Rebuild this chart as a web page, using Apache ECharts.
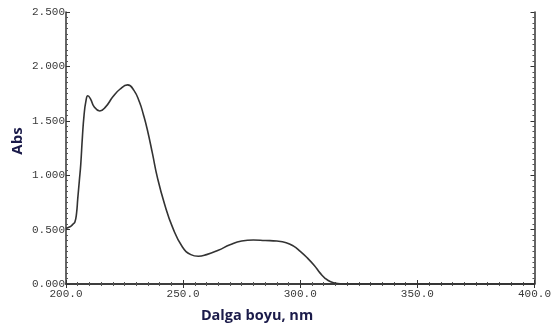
<!DOCTYPE html>
<html>
<head>
<meta charset="utf-8">
<script src="https://cdn.jsdelivr.net/npm/echarts@6/dist/echarts.min.js"></script>
<style>html,body{margin:0;padding:0;background:#fff;}#c{width:554px;height:331px;}</style>
</head>
<body>
<div id="c"></div>
<script>
var wavelengths = [200, 201, 202, 203, 203.8, 204.5, 205, 205.7, 206.3, 207, 207.7, 208.5, 209.3, 210.5, 212, 214.4, 217, 220, 223, 226.3, 229, 231.4, 233, 234.7, 236.9, 239, 242, 245.5, 249.7, 253.3, 256.5, 260, 265, 270, 275, 280, 285, 290, 294, 297, 300, 303, 306, 308.5, 310.5, 313, 316, 320, 330, 340, 350, 360, 370, 380, 390, 400];
var absorbance = [0.51, 0.52, 0.53, 0.55, 0.57, 0.65, 0.78, 0.95, 1.10, 1.35, 1.55, 1.68, 1.73, 1.70, 1.63, 1.59, 1.63, 1.72, 1.79, 1.83, 1.78, 1.67, 1.56, 1.42, 1.20, 0.98, 0.74, 0.52, 0.34, 0.27, 0.255, 0.27, 0.31, 0.36, 0.395, 0.405, 0.40, 0.395, 0.38, 0.35, 0.30, 0.24, 0.17, 0.10, 0.055, 0.02, 0.005, 0, 0, 0, 0, 0, 0, 0, 0, 0];
var xTickLabels = ['200.0', '250.0', '300.0', '350.0', '400.0'];
var yTickLabels = ['0.000', '0.500', '1.000', '1.500', '2.000', '2.500'];

var points = wavelengths.map(function (w, i) { return [w, absorbance[i]]; });
var chart = echarts.init(document.getElementById('c'));
var axisLineStyle = { color: '#333', width: 1.5 };
var labelFont = { fontFamily: 'Liberation Mono', fontSize: 11, color: '#3a3a3a' };
chart.setOption({
  animation: false,
  grid: { left: 66, right: 16, top: 12, bottom: 47 },
  xAxis: [{
    type: 'value', min: 200, max: 400, interval: 50,
    axisLine: { show: true, lineStyle: axisLineStyle },
    axisTick: { show: true, inside: true, length: 4, lineStyle: { color: '#333' } },
    minorTick: { show: true, splitNumber: 10, length: 2, lineStyle: { color: '#555' } },
    splitLine: { show: false },
    axisLabel: Object.assign({ margin: 5, formatter: function (v) { return xTickLabels[(v - 200) / 50]; } }, labelFont)
  }, {
    type: 'value', position: 'top', min: 200, max: 400, interval: 50,
    axisLine: { show: true, lineStyle: axisLineStyle },
    axisTick: { show: true, inside: true, length: 4, lineStyle: { color: '#333' } },
    minorTick: { show: true, splitNumber: 10, length: 2, lineStyle: { color: '#555' } },
    splitLine: { show: false },
    axisLabel: { show: false }
  }],
  yAxis: [{
    type: 'value', min: 0, max: 2.5, interval: 0.5,
    axisLine: { show: true, lineStyle: axisLineStyle },
    axisTick: { show: true, inside: true, length: 4, lineStyle: { color: '#333' } },
    minorTick: { show: true, splitNumber: 10, length: 2, lineStyle: { color: '#555' } },
    splitLine: { show: false },
    axisLabel: Object.assign({ margin: 1, padding: [0, 0, 4, 0], formatter: function (v) { return yTickLabels[Math.round(v / 0.5)]; } }, labelFont)
  }, {
    type: 'value', position: 'right', min: 0, max: 2.5, interval: 0.5,
    axisLine: { show: true, lineStyle: axisLineStyle },
    axisTick: { show: true, inside: true, length: 4, lineStyle: { color: '#333' } },
    minorTick: { show: true, splitNumber: 10, length: 2, lineStyle: { color: '#555' } },
    splitLine: { show: false },
    axisLabel: { show: false }
  }],
  graphic: [
    { type: 'text', x: 257, y: 316, style: { text: 'Dalga boyu, nm', fontFamily: 'Open Sans', fontWeight: 'bold', fontSize: 14.5, fill: '#1b1b4a', align: 'center', verticalAlign: 'middle' } },
    { type: 'text', x: 18, y: 141, rotation: Math.PI / 2, style: { text: 'Abs', fontFamily: 'Open Sans', fontWeight: 'bold', fontSize: 15, fill: '#1b1b4a', align: 'center', verticalAlign: 'middle' } }
  ],
  series: [{
    type: 'line', data: points, smooth: 0.5, showSymbol: false,
    lineStyle: { color: '#333', width: 1.6 }
  }]
});
</script>
</body>
</html>
